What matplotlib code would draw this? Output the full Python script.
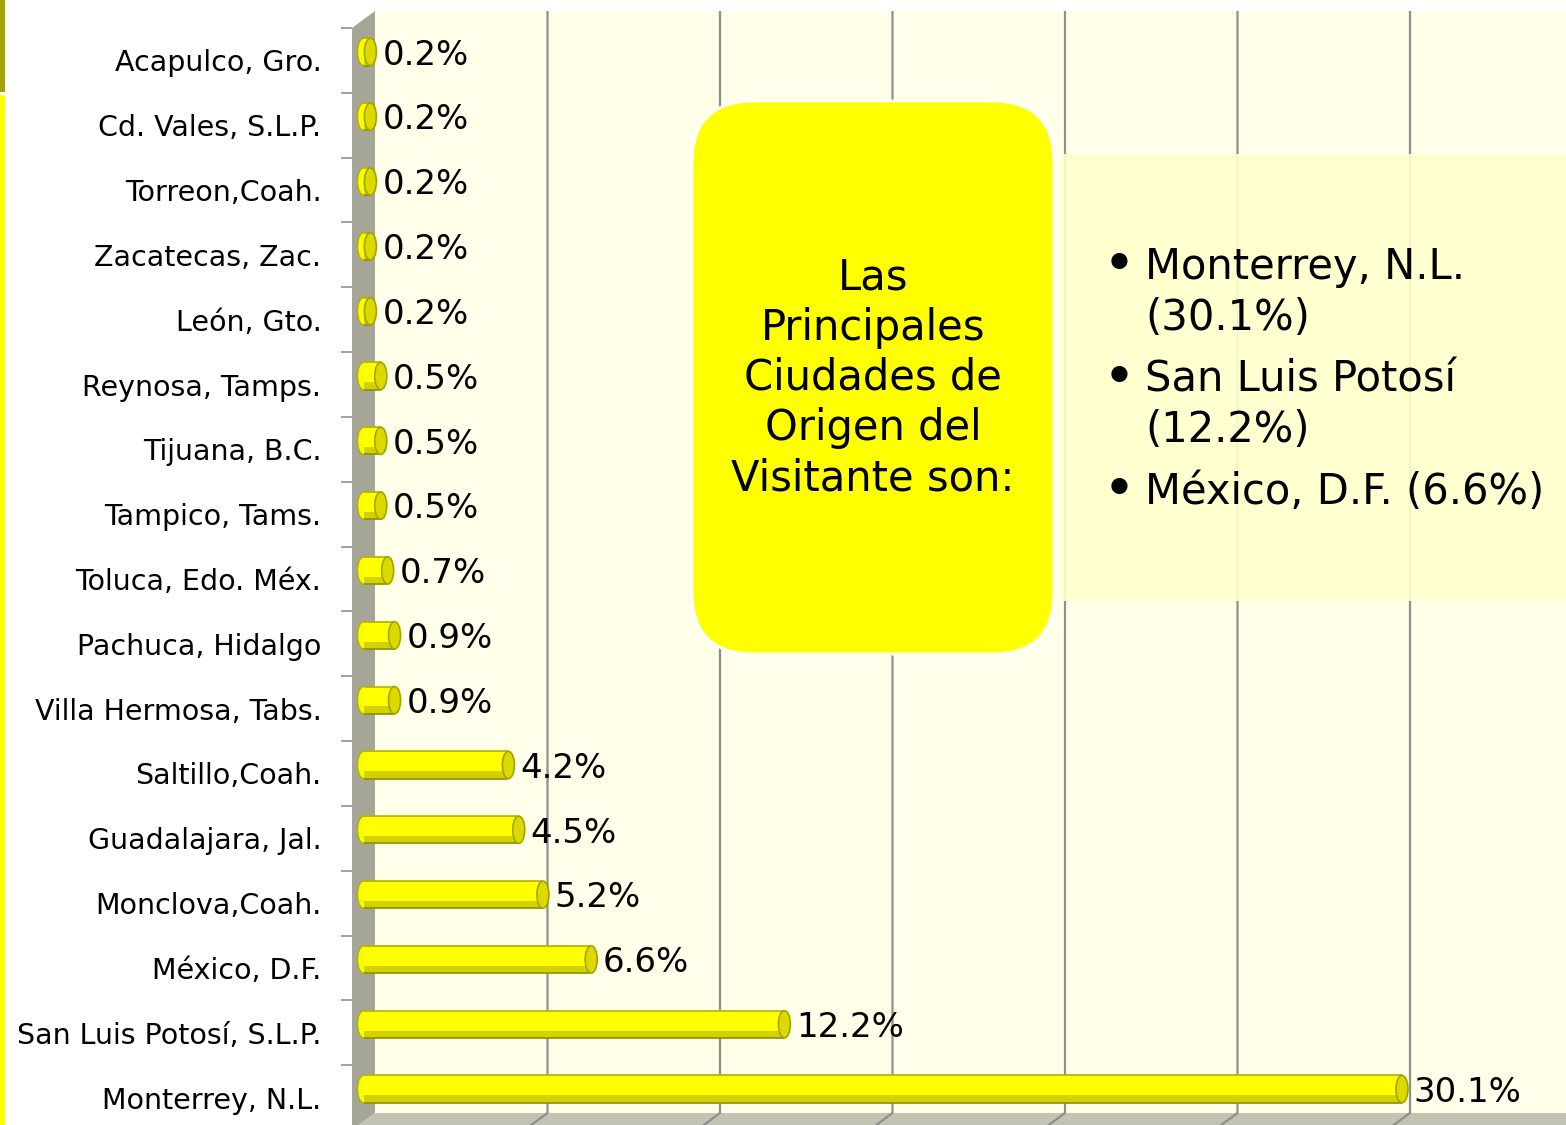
import numpy as np
import matplotlib
matplotlib.use("Agg")
import matplotlib.pyplot as plt
from matplotlib.patches import Rectangle, Ellipse, FancyBboxPatch, Polygon

plt.rcParams['font.family'] = ['DejaVu Sans']

# ---------------- data ----------------
cities = ["Acapulco, Gro.", "Cd. Vales, S.L.P.", "Torreon,Coah.", "Zacatecas, Zac.",
          "León, Gto.", "Reynosa, Tamps.", "Tijuana, B.C.", "Tampico, Tams.",
          "Toluca, Edo. Méx.", "Pachuca, Hidalgo", "Villa Hermosa, Tabs.",
          "Saltillo,Coah.", "Guadalajara, Jal.", "Monclova,Coah.", "México, D.F.",
          "San Luis Potosí, S.L.P.", "Monterrey, N.L."]
values = [0.2, 0.2, 0.2, 0.2, 0.2, 0.5, 0.5, 0.5, 0.7, 0.9, 0.9,
          4.2, 4.5, 5.2, 6.6, 12.2, 30.1]
grid_ticks = [5, 10, 15, 20, 25, 30]
box_lines = ["Las", "Principales", "Ciudades de", "Origen del", "Visitante son:"]
bullet_items = ["Monterrey, N.L.\n(30.1%)", "San Luis Potosí\n(12.2%)", "México, D.F. (6.6%)"]

# ---------------- figure ----------------
W, H = 1566, 1125
fig = plt.figure(figsize=(W / 100, H / 100), dpi=100)
fig.patch.set_facecolor("white")

PX_PER_PCT = 34.5
left_px, top_px, bot_px = 352, 28, 1130
ax = fig.add_axes([left_px / W, 1 - bot_px / H, (W - left_px) / W, (bot_px - top_px) / H])
n = len(cities)
xmax = (W - left_px) / PX_PER_PCT
ax.set_xlim(0, xmax)
ax.set_ylim(n - 0.5, -0.5)
ax.patch.set_alpha(0)
for s in ax.spines.values():
    s.set_visible(False)

# depth of the 3D box in data units
cat_px = (bot_px - top_px) / n
DX = 23 / PX_PER_PCT
DY = 17 / cat_px

wall_col = "#A6A698"
floor_col = "#C3C3B3"
back_col = "#FFFFEA"
grid_col = "#8E8E8E"

# back wall
ax.add_patch(Rectangle((DX, -0.5 - DY), xmax + 2, n, facecolor=back_col,
                       edgecolor="none", zorder=0, clip_on=False))
# left wall
ax.add_patch(Polygon([(0, -0.5), (DX, -0.5 - DY), (DX, n - 0.5 - DY), (0, n - 0.5)],
                     closed=True, facecolor=wall_col, edgecolor="none", zorder=1, clip_on=False))
# floor
ax.add_patch(Polygon([(0, n - 0.5), (DX, n - 0.5 - DY), (xmax + 2, n - 0.5 - DY), (xmax + 2, n - 0.5)],
                     closed=True, facecolor=floor_col, edgecolor="none", zorder=1, clip_on=False))
# gridlines
for g in grid_ticks:
    ax.plot([g + DX, g + DX, g], [-0.5 - DY, n - 0.5 - DY, n - 0.5], color=grid_col,
            lw=1.6, zorder=1.5, clip_on=False, solid_capstyle="butt")

# bars (cylinders)
h = 0.42
cap_w = 12 / PX_PER_PCT
y = np.arange(n)
yb = y - DY / 2
hx = DX / 2
for yi, v in zip(yb, values):
    ax.add_patch(Ellipse((hx, yi), cap_w, h, facecolor="#FAFA00", edgecolor="#B0B000",
                         lw=1, zorder=3))
ax.barh(yb, values, height=h, left=hx, color="#D2D200", edgecolor="none", zorder=4)
ax.barh(yb - h * 0.12, values, height=h * 0.70, left=hx, color="#FFFF00", edgecolor="none", zorder=4.1)
vals = np.array(values)
ax.hlines(yb - h / 2, hx, hx + vals, color="#B4B400", lw=1.2, zorder=4.2)
ax.hlines(yb + h / 2, hx, hx + vals, color="#8E8E00", lw=1.2, zorder=4.2)
for yi, v in zip(yb, values):
    ax.add_patch(Ellipse((hx + v, yi), cap_w, h, facecolor="#DADA00", edgecolor="#A4A400",
                         lw=1.2, zorder=5))
    ax.text(hx + v + cap_w / 2 + 0.17, yi + 0.05, f"{v:.1f}%", fontsize=24.5,
            va="center", ha="left", color="black", zorder=6)

# ticks and labels
ax.set_xticks([])
ax.set_yticks(y)
ax.set_yticklabels(cities, fontsize=20.5)
ax.set_yticks(np.arange(n + 1) - 0.5, minor=True)
ax.tick_params(axis="y", which="major", length=0, pad=22)
ax.tick_params(axis="y", which="minor", length=8, color="#909090", width=1.2)

# ---------------- overlay ----------------
ov = fig.add_axes([0, 0, 1, 1])
ov.set_xlim(0, W)
ov.set_ylim(H, 0)
ov.axis("off")
ov.patch.set_alpha(0)

ov.add_patch(Rectangle((0, 0), 5, 92, facecolor="#A3A300", edgecolor="none"))
ov.add_patch(Rectangle((0, 95), 5, H - 95, facecolor="#FFFF00", edgecolor="none"))

ov.add_patch(Rectangle((1062, 154), W - 1062, 447, facecolor="#FFFFCC", alpha=0.9,
                       edgecolor="none", zorder=2))
ov.add_patch(FancyBboxPatch((692, 101), 362, 553, boxstyle="round,pad=0,rounding_size=62",
                            facecolor="#FFFF00", edgecolor="white", lw=2, zorder=3))
ov.text(873, 378, "\n".join(box_lines), fontsize=30, ha="center", va="center",
        multialignment="center", linespacing=1.25, zorder=4)

for i, item in enumerate(bullet_items):
    yy = 265 + 112.5 * i
    ov.text(1119, yy + 2, "•", fontsize=40, ha="center", va="center", zorder=4)
    ov.text(1145, yy - 19, item, fontsize=30, ha="left", va="top", linespacing=1.27, zorder=4)

fig.savefig("out.png", dpi=100)
